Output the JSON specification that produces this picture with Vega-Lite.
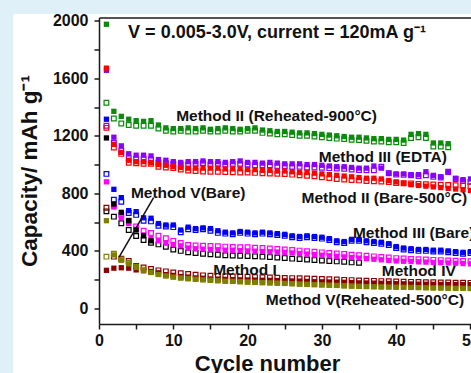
{
"$schema": "https://vega.github.io/schema/vega-lite/v6.json",
"width": 372, "height": 306.5,
"autosize": "none",
"padding": {"left": 99, "top": 17.5, "right": 0, "bottom": 49},
"background": "#e0f0f9",
"config": {"view": {"stroke": null}, "font": "Liberation Sans",
 "axis": {"domainColor": "#1a1a1a", "domainWidth": 1.5, "tickColor": "#1a1a1a", "tickWidth": 1.5, "labelFont": "Liberation Sans", "labelFontWeight": "bold", "labelColor": "#111", "titleFont": "Liberation Sans", "titleFontWeight": "bold", "titleColor": "#111", "grid": false, "zindex": 1}},
"datasets": {
"lead": [{"c": 7.35, "v": 770, "c2": 2.7, "v2": 356}],
"panel": [{"c": -11.55, "v": 2046.6, "c2": 60, "v2": -600}],
"ann": [
{"c": 23.96, "v": 1913, "t": "V = 0.005-3.0V, current = 120mA g⁻¹", "k": "top"},
{"c": 23.9, "v": 1340, "t": "Method II (Reheated-900°C)", "k": "m"},
{"c": 38.2, "v": 1055, "t": "Method III (EDTA)", "k": "m"},
{"c": 38.4, "v": 766, "t": "Method II (Bare-500°C)", "k": "m"},
{"c": 12.0, "v": 800, "t": "Method V(Bare)", "k": "m"},
{"c": 42.35, "v": 523, "t": "Method III (Bare)", "k": "m"},
{"c": 19.65, "v": 267, "t": "Method I", "k": "m"},
{"c": 43.04, "v": 262, "t": "Method IV", "k": "m"},
{"c": 35.8, "v": 59, "t": "Method V(Reheated-500°C)", "k": "m"}
],
"pts": [
{"c":1,"v":1975,"s":"G","f":1},{"c":2,"v":1370,"s":"G","f":1},{"c":3,"v":1335,"s":"G","f":1},{"c":4,"v":1315,"s":"G","f":1},{"c":5,"v":1305,"s":"G","f":1},{"c":6,"v":1300,"s":"G","f":1},{"c":7,"v":1305,"s":"G","f":1},{"c":8,"v":1275,"s":"G","f":1},{"c":9,"v":1255,"s":"G","f":1},{"c":10,"v":1250,"s":"G","f":1},
{"c":11,"v":1250,"s":"G","f":1},{"c":12,"v":1255,"s":"G","f":1},{"c":13,"v":1250,"s":"G","f":1},{"c":14,"v":1255,"s":"G","f":1},{"c":15,"v":1245,"s":"G","f":1},{"c":16,"v":1250,"s":"G","f":1},{"c":17,"v":1255,"s":"G","f":1},{"c":18,"v":1250,"s":"G","f":1},{"c":19,"v":1245,"s":"G","f":1},{"c":20,"v":1250,"s":"G","f":1},
{"c":21,"v":1255,"s":"G","f":1},{"c":22,"v":1240,"s":"G","f":1},{"c":23,"v":1235,"s":"G","f":1},{"c":24,"v":1230,"s":"G","f":1},{"c":25,"v":1230,"s":"G","f":1},{"c":26,"v":1225,"s":"G","f":1},{"c":27,"v":1220,"s":"G","f":1},{"c":28,"v":1220,"s":"G","f":1},{"c":29,"v":1215,"s":"G","f":1},{"c":30,"v":1210,"s":"G","f":1},
{"c":31,"v":1205,"s":"G","f":1},{"c":32,"v":1200,"s":"G","f":1},{"c":33,"v":1195,"s":"G","f":1},{"c":34,"v":1190,"s":"G","f":1},{"c":35,"v":1190,"s":"G","f":1},{"c":36,"v":1185,"s":"G","f":1},{"c":37,"v":1180,"s":"G","f":1},{"c":38,"v":1180,"s":"G","f":1},{"c":39,"v":1175,"s":"G","f":1},{"c":40,"v":1175,"s":"G","f":1},
{"c":41,"v":1170,"s":"G","f":1},{"c":42,"v":1210,"s":"G","f":1},{"c":43,"v":1215,"s":"G","f":1},{"c":44,"v":1210,"s":"G","f":1},{"c":45,"v":1150,"s":"G","f":1},{"c":46,"v":1150,"s":"G","f":1},{"c":47,"v":1145,"s":"G","f":1},
{"c":1,"v":1430,"s":"G","f":0},{"c":2,"v":1320,"s":"G","f":0},{"c":3,"v":1285,"s":"G","f":0},{"c":4,"v":1275,"s":"G","f":0},{"c":5,"v":1270,"s":"G","f":0},{"c":6,"v":1270,"s":"G","f":0},{"c":7,"v":1270,"s":"G","f":0},{"c":8,"v":1250,"s":"G","f":0},{"c":9,"v":1235,"s":"G","f":0},{"c":10,"v":1230,"s":"G","f":0},
{"c":11,"v":1235,"s":"G","f":0},{"c":12,"v":1230,"s":"G","f":0},{"c":13,"v":1230,"s":"G","f":0},{"c":14,"v":1235,"s":"G","f":0},{"c":15,"v":1230,"s":"G","f":0},{"c":16,"v":1230,"s":"G","f":0},{"c":17,"v":1235,"s":"G","f":0},{"c":18,"v":1230,"s":"G","f":0},{"c":19,"v":1230,"s":"G","f":0},{"c":20,"v":1235,"s":"G","f":0},
{"c":21,"v":1235,"s":"G","f":0},{"c":22,"v":1220,"s":"G","f":0},{"c":23,"v":1215,"s":"G","f":0},{"c":24,"v":1210,"s":"G","f":0},{"c":25,"v":1210,"s":"G","f":0},{"c":26,"v":1205,"s":"G","f":0},{"c":27,"v":1200,"s":"G","f":0},{"c":28,"v":1200,"s":"G","f":0},{"c":29,"v":1195,"s":"G","f":0},{"c":30,"v":1190,"s":"G","f":0},
{"c":31,"v":1185,"s":"G","f":0},{"c":32,"v":1180,"s":"G","f":0},{"c":33,"v":1178,"s":"G","f":0},{"c":34,"v":1172,"s":"G","f":0},{"c":35,"v":1170,"s":"G","f":0},{"c":36,"v":1165,"s":"G","f":0},{"c":37,"v":1160,"s":"G","f":0},{"c":38,"v":1160,"s":"G","f":0},{"c":39,"v":1155,"s":"G","f":0},{"c":40,"v":1155,"s":"G","f":0},
{"c":41,"v":1150,"s":"G","f":0},{"c":42,"v":1185,"s":"G","f":0},{"c":43,"v":1190,"s":"G","f":0},{"c":44,"v":1185,"s":"G","f":0},{"c":45,"v":1125,"s":"G","f":0},{"c":46,"v":1125,"s":"G","f":0},{"c":47,"v":1120,"s":"G","f":0},
{"c":1,"v":1655,"s":"P","f":1},{"c":2,"v":1190,"s":"P","f":1},{"c":3,"v":1130,"s":"P","f":1},{"c":4,"v":1075,"s":"P","f":1},{"c":5,"v":1065,"s":"P","f":1},{"c":6,"v":1065,"s":"P","f":1},{"c":7,"v":1060,"s":"P","f":1},{"c":8,"v":1035,"s":"P","f":1},{"c":9,"v":1030,"s":"P","f":1},{"c":10,"v":1020,"s":"P","f":1},
{"c":11,"v":1015,"s":"P","f":1},{"c":12,"v":1020,"s":"P","f":1},{"c":13,"v":1020,"s":"P","f":1},{"c":14,"v":1025,"s":"P","f":1},{"c":15,"v":1020,"s":"P","f":1},{"c":16,"v":1020,"s":"P","f":1},{"c":17,"v":1015,"s":"P","f":1},{"c":18,"v":1020,"s":"P","f":1},{"c":19,"v":1025,"s":"P","f":1},{"c":20,"v":1015,"s":"P","f":1},
{"c":21,"v":1015,"s":"P","f":1},{"c":22,"v":1010,"s":"P","f":1},{"c":23,"v":1015,"s":"P","f":1},{"c":24,"v":1010,"s":"P","f":1},{"c":25,"v":1005,"s":"P","f":1},{"c":26,"v":1005,"s":"P","f":1},{"c":27,"v":1005,"s":"P","f":1},{"c":28,"v":1000,"s":"P","f":1},{"c":29,"v":1000,"s":"P","f":1},{"c":30,"v":995,"s":"P","f":1},
{"c":31,"v":990,"s":"P","f":1},{"c":32,"v":985,"s":"P","f":1},{"c":33,"v":985,"s":"P","f":1},{"c":34,"v":980,"s":"P","f":1},{"c":35,"v":975,"s":"P","f":1},{"c":36,"v":975,"s":"P","f":1},{"c":37,"v":990,"s":"P","f":1},{"c":38,"v":975,"s":"P","f":1},{"c":39,"v":940,"s":"P","f":1},{"c":40,"v":935,"s":"P","f":1},
{"c":41,"v":935,"s":"P","f":1},{"c":42,"v":930,"s":"P","f":1},{"c":43,"v":930,"s":"P","f":1},{"c":44,"v":950,"s":"P","f":1},{"c":45,"v":925,"s":"P","f":1},{"c":46,"v":915,"s":"P","f":1},{"c":47,"v":945,"s":"P","f":1},{"c":48,"v":905,"s":"P","f":1},{"c":49,"v":895,"s":"P","f":1},{"c":50,"v":900,"s":"P","f":1},
{"c":1,"v":1270,"s":"P","f":0},{"c":2,"v":1150,"s":"P","f":0},{"c":3,"v":1097,"s":"P","f":0},{"c":4,"v":1045,"s":"P","f":0},{"c":5,"v":1040,"s":"P","f":0},{"c":6,"v":1040,"s":"P","f":0},{"c":7,"v":1035,"s":"P","f":0},{"c":8,"v":1015,"s":"P","f":0},{"c":9,"v":1010,"s":"P","f":0},{"c":10,"v":1005,"s":"P","f":0},
{"c":11,"v":1000,"s":"P","f":0},{"c":12,"v":1000,"s":"P","f":0},{"c":13,"v":1005,"s":"P","f":0},{"c":14,"v":1010,"s":"P","f":0},{"c":15,"v":1000,"s":"P","f":0},{"c":16,"v":1005,"s":"P","f":0},{"c":17,"v":1000,"s":"P","f":0},{"c":18,"v":1005,"s":"P","f":0},{"c":19,"v":1005,"s":"P","f":0},{"c":20,"v":1000,"s":"P","f":0},
{"c":21,"v":995,"s":"P","f":0},{"c":22,"v":995,"s":"P","f":0},{"c":23,"v":995,"s":"P","f":0},{"c":24,"v":990,"s":"P","f":0},{"c":25,"v":990,"s":"P","f":0},{"c":26,"v":985,"s":"P","f":0},{"c":27,"v":985,"s":"P","f":0},{"c":28,"v":980,"s":"P","f":0},{"c":29,"v":980,"s":"P","f":0},{"c":30,"v":978,"s":"P","f":0},
{"c":31,"v":975,"s":"P","f":0},{"c":32,"v":972,"s":"P","f":0},{"c":33,"v":970,"s":"P","f":0},{"c":34,"v":965,"s":"P","f":0},{"c":35,"v":962,"s":"P","f":0},{"c":36,"v":960,"s":"P","f":0},{"c":37,"v":960,"s":"P","f":0},{"c":38,"v":985,"s":"P","f":0},{"c":39,"v":940,"s":"P","f":0},{"c":40,"v":930,"s":"P","f":0},
{"c":41,"v":928,"s":"P","f":0},{"c":42,"v":925,"s":"P","f":0},{"c":43,"v":920,"s":"P","f":0},{"c":44,"v":925,"s":"P","f":0},{"c":45,"v":915,"s":"P","f":0},{"c":46,"v":910,"s":"P","f":0},{"c":47,"v":950,"s":"P","f":0},{"c":48,"v":900,"s":"P","f":0},{"c":49,"v":885,"s":"P","f":0},{"c":50,"v":880,"s":"P","f":0},
{"c":1,"v":1670,"s":"R","f":1},{"c":2,"v":1140,"s":"R","f":1},{"c":3,"v":1085,"s":"R","f":1},{"c":4,"v":1030,"s":"R","f":1},{"c":5,"v":1020,"s":"R","f":1},{"c":6,"v":1020,"s":"R","f":1},{"c":7,"v":1015,"s":"R","f":1},{"c":8,"v":1000,"s":"R","f":1},{"c":9,"v":995,"s":"R","f":1},{"c":10,"v":985,"s":"R","f":1},
{"c":11,"v":980,"s":"R","f":1},{"c":12,"v":975,"s":"R","f":1},{"c":13,"v":975,"s":"R","f":1},{"c":14,"v":975,"s":"R","f":1},{"c":15,"v":975,"s":"R","f":1},{"c":16,"v":975,"s":"R","f":1},{"c":17,"v":970,"s":"R","f":1},{"c":18,"v":970,"s":"R","f":1},{"c":19,"v":970,"s":"R","f":1},{"c":20,"v":965,"s":"R","f":1},
{"c":21,"v":965,"s":"R","f":1},{"c":22,"v":960,"s":"R","f":1},{"c":23,"v":960,"s":"R","f":1},{"c":24,"v":955,"s":"R","f":1},{"c":25,"v":955,"s":"R","f":1},{"c":26,"v":950,"s":"R","f":1},{"c":27,"v":945,"s":"R","f":1},{"c":28,"v":945,"s":"R","f":1},{"c":29,"v":940,"s":"R","f":1},{"c":30,"v":935,"s":"R","f":1},
{"c":31,"v":930,"s":"R","f":1},{"c":32,"v":925,"s":"R","f":1},{"c":33,"v":920,"s":"R","f":1},{"c":34,"v":915,"s":"R","f":1},{"c":35,"v":910,"s":"R","f":1},{"c":36,"v":905,"s":"R","f":1},{"c":37,"v":905,"s":"R","f":1},{"c":38,"v":900,"s":"R","f":1},{"c":39,"v":890,"s":"R","f":1},{"c":40,"v":880,"s":"R","f":1},
{"c":41,"v":870,"s":"R","f":1},{"c":42,"v":860,"s":"R","f":1},{"c":43,"v":855,"s":"R","f":1},{"c":44,"v":850,"s":"R","f":1},{"c":45,"v":845,"s":"R","f":1},{"c":46,"v":840,"s":"R","f":1},{"c":47,"v":835,"s":"R","f":1},{"c":48,"v":830,"s":"R","f":1},{"c":49,"v":825,"s":"R","f":1},{"c":50,"v":820,"s":"R","f":1},
{"c":1,"v":1255,"s":"R","f":0},{"c":2,"v":1118,"s":"R","f":0},{"c":3,"v":1074,"s":"R","f":0},{"c":4,"v":1013,"s":"R","f":0},{"c":5,"v":1009,"s":"R","f":0},{"c":6,"v":1005,"s":"R","f":0},{"c":7,"v":1005,"s":"R","f":0},{"c":8,"v":985,"s":"R","f":0},{"c":9,"v":980,"s":"R","f":0},{"c":10,"v":975,"s":"R","f":0},
{"c":11,"v":965,"s":"R","f":0},{"c":12,"v":958,"s":"R","f":0},{"c":13,"v":955,"s":"R","f":0},{"c":14,"v":952,"s":"R","f":0},{"c":15,"v":950,"s":"R","f":0},{"c":16,"v":950,"s":"R","f":0},{"c":17,"v":948,"s":"R","f":0},{"c":18,"v":946,"s":"R","f":0},{"c":19,"v":945,"s":"R","f":0},{"c":20,"v":944,"s":"R","f":0},
{"c":21,"v":942,"s":"R","f":0},{"c":22,"v":940,"s":"R","f":0},{"c":23,"v":938,"s":"R","f":0},{"c":24,"v":936,"s":"R","f":0},{"c":25,"v":934,"s":"R","f":0},{"c":26,"v":930,"s":"R","f":0},{"c":27,"v":926,"s":"R","f":0},{"c":28,"v":922,"s":"R","f":0},{"c":29,"v":918,"s":"R","f":0},{"c":30,"v":912,"s":"R","f":0},
{"c":31,"v":906,"s":"R","f":0},{"c":32,"v":900,"s":"R","f":0},{"c":33,"v":896,"s":"R","f":0},{"c":34,"v":892,"s":"R","f":0},{"c":35,"v":890,"s":"R","f":0},{"c":36,"v":886,"s":"R","f":0},{"c":37,"v":884,"s":"R","f":0},{"c":38,"v":882,"s":"R","f":0},{"c":39,"v":878,"s":"R","f":0},{"c":40,"v":872,"s":"R","f":0},
{"c":41,"v":870,"s":"R","f":0},{"c":42,"v":868,"s":"R","f":0},{"c":43,"v":866,"s":"R","f":0},{"c":44,"v":864,"s":"R","f":0},{"c":45,"v":862,"s":"R","f":0},{"c":46,"v":860,"s":"R","f":0},{"c":47,"v":858,"s":"R","f":0},{"c":48,"v":856,"s":"R","f":0},{"c":49,"v":854,"s":"R","f":0},{"c":50,"v":850,"s":"R","f":0},
{"c":1,"v":1315,"s":"B","f":1},{"c":2,"v":828,"s":"B","f":1},{"c":3,"v":770,"s":"B","f":1},{"c":4,"v":680,"s":"B","f":1},{"c":5,"v":673,"s":"B","f":1},{"c":6,"v":630,"s":"B","f":1},{"c":7,"v":627,"s":"B","f":1},{"c":8,"v":590,"s":"B","f":1},{"c":9,"v":580,"s":"B","f":1},{"c":10,"v":580,"s":"B","f":1},
{"c":11,"v":545,"s":"B","f":1},{"c":12,"v":565,"s":"B","f":1},{"c":13,"v":555,"s":"B","f":1},{"c":14,"v":560,"s":"B","f":1},{"c":15,"v":555,"s":"B","f":1},{"c":16,"v":540,"s":"B","f":1},{"c":17,"v":530,"s":"B","f":1},{"c":18,"v":525,"s":"B","f":1},{"c":19,"v":535,"s":"B","f":1},{"c":20,"v":530,"s":"B","f":1},
{"c":21,"v":525,"s":"B","f":1},{"c":22,"v":530,"s":"B","f":1},{"c":23,"v":525,"s":"B","f":1},{"c":24,"v":520,"s":"B","f":1},{"c":25,"v":515,"s":"B","f":1},{"c":26,"v":505,"s":"B","f":1},{"c":27,"v":500,"s":"B","f":1},{"c":28,"v":505,"s":"B","f":1},{"c":29,"v":500,"s":"B","f":1},{"c":30,"v":495,"s":"B","f":1},
{"c":31,"v":485,"s":"B","f":1},{"c":32,"v":470,"s":"B","f":1},{"c":33,"v":465,"s":"B","f":1},{"c":34,"v":480,"s":"B","f":1},{"c":35,"v":480,"s":"B","f":1},{"c":36,"v":470,"s":"B","f":1},{"c":37,"v":465,"s":"B","f":1},{"c":38,"v":460,"s":"B","f":1},{"c":39,"v":450,"s":"B","f":1},{"c":40,"v":430,"s":"B","f":1},
{"c":41,"v":420,"s":"B","f":1},{"c":42,"v":415,"s":"B","f":1},{"c":43,"v":410,"s":"B","f":1},{"c":44,"v":410,"s":"B","f":1},{"c":45,"v":405,"s":"B","f":1},{"c":46,"v":405,"s":"B","f":1},{"c":47,"v":400,"s":"B","f":1},{"c":48,"v":395,"s":"B","f":1},{"c":49,"v":390,"s":"B","f":1},{"c":50,"v":395,"s":"B","f":1},
{"c":1,"v":935,"s":"B","f":0},{"c":2,"v":755,"s":"B","f":0},{"c":3,"v":742,"s":"B","f":0},{"c":4,"v":663,"s":"B","f":0},{"c":5,"v":650,"s":"B","f":0},{"c":6,"v":610,"s":"B","f":0},{"c":7,"v":605,"s":"B","f":0},{"c":8,"v":575,"s":"B","f":0},{"c":9,"v":570,"s":"B","f":0},{"c":10,"v":565,"s":"B","f":0},
{"c":11,"v":530,"s":"B","f":0},{"c":12,"v":550,"s":"B","f":0},{"c":13,"v":545,"s":"B","f":0},{"c":14,"v":550,"s":"B","f":0},{"c":15,"v":540,"s":"B","f":0},{"c":16,"v":525,"s":"B","f":0},{"c":17,"v":520,"s":"B","f":0},{"c":18,"v":515,"s":"B","f":0},{"c":19,"v":525,"s":"B","f":0},{"c":20,"v":520,"s":"B","f":0},
{"c":21,"v":515,"s":"B","f":0},{"c":22,"v":520,"s":"B","f":0},{"c":23,"v":515,"s":"B","f":0},{"c":24,"v":510,"s":"B","f":0},{"c":25,"v":505,"s":"B","f":0},{"c":26,"v":495,"s":"B","f":0},{"c":27,"v":490,"s":"B","f":0},{"c":28,"v":495,"s":"B","f":0},{"c":29,"v":490,"s":"B","f":0},{"c":30,"v":485,"s":"B","f":0},
{"c":31,"v":475,"s":"B","f":0},{"c":32,"v":460,"s":"B","f":0},{"c":33,"v":455,"s":"B","f":0},{"c":34,"v":470,"s":"B","f":0},{"c":35,"v":470,"s":"B","f":0},{"c":36,"v":460,"s":"B","f":0},{"c":37,"v":455,"s":"B","f":0},{"c":38,"v":450,"s":"B","f":0},{"c":39,"v":440,"s":"B","f":0},{"c":40,"v":420,"s":"B","f":0},
{"c":41,"v":410,"s":"B","f":0},{"c":42,"v":405,"s":"B","f":0},{"c":43,"v":400,"s":"B","f":0},{"c":44,"v":400,"s":"B","f":0},{"c":45,"v":395,"s":"B","f":0},{"c":46,"v":395,"s":"B","f":0},{"c":47,"v":390,"s":"B","f":0},{"c":48,"v":385,"s":"B","f":0},{"c":49,"v":380,"s":"B","f":0},{"c":50,"v":385,"s":"B","f":0},
{"c":1,"v":880,"s":"M","f":1},{"c":2,"v":705,"s":"M","f":1},{"c":3,"v":630,"s":"M","f":1},{"c":4,"v":590,"s":"M","f":1},{"c":5,"v":550,"s":"M","f":1},{"c":6,"v":510,"s":"M","f":1},{"c":7,"v":490,"s":"M","f":1},{"c":8,"v":470,"s":"M","f":1},{"c":9,"v":455,"s":"M","f":1},{"c":10,"v":445,"s":"M","f":1},
{"c":11,"v":435,"s":"M","f":1},{"c":12,"v":420,"s":"M","f":1},{"c":13,"v":415,"s":"M","f":1},{"c":14,"v":412,"s":"M","f":1},{"c":15,"v":410,"s":"M","f":1},{"c":16,"v":408,"s":"M","f":1},{"c":17,"v":405,"s":"M","f":1},{"c":18,"v":405,"s":"M","f":1},{"c":19,"v":402,"s":"M","f":1},{"c":20,"v":400,"s":"M","f":1},
{"c":21,"v":398,"s":"M","f":1},{"c":22,"v":396,"s":"M","f":1},{"c":23,"v":394,"s":"M","f":1},{"c":24,"v":392,"s":"M","f":1},{"c":25,"v":390,"s":"M","f":1},{"c":26,"v":386,"s":"M","f":1},{"c":27,"v":382,"s":"M","f":1},{"c":28,"v":378,"s":"M","f":1},{"c":29,"v":374,"s":"M","f":1},{"c":30,"v":370,"s":"M","f":1},
{"c":31,"v":366,"s":"M","f":1},{"c":32,"v":362,"s":"M","f":1},{"c":33,"v":358,"s":"M","f":1},{"c":34,"v":354,"s":"M","f":1},{"c":35,"v":350,"s":"M","f":1},{"c":36,"v":346,"s":"M","f":1},{"c":37,"v":342,"s":"M","f":1},{"c":38,"v":338,"s":"M","f":1},{"c":39,"v":334,"s":"M","f":1},{"c":40,"v":330,"s":"M","f":1},
{"c":41,"v":328,"s":"M","f":1},{"c":42,"v":326,"s":"M","f":1},{"c":43,"v":324,"s":"M","f":1},{"c":44,"v":322,"s":"M","f":1},{"c":45,"v":320,"s":"M","f":1},{"c":46,"v":318,"s":"M","f":1},{"c":47,"v":316,"s":"M","f":1},{"c":48,"v":314,"s":"M","f":1},{"c":49,"v":312,"s":"M","f":1},{"c":50,"v":310,"s":"M","f":1},
{"c":2,"v":715,"s":"M","f":0},{"c":3,"v":650,"s":"M","f":0},{"c":4,"v":610,"s":"M","f":0},{"c":5,"v":570,"s":"M","f":0},{"c":6,"v":540,"s":"M","f":0},{"c":7,"v":525,"s":"M","f":0},{"c":8,"v":505,"s":"M","f":0},{"c":9,"v":488,"s":"M","f":0},{"c":10,"v":470,"s":"M","f":0},
{"c":11,"v":455,"s":"M","f":0},{"c":12,"v":441,"s":"M","f":0},{"c":13,"v":438,"s":"M","f":0},{"c":14,"v":436,"s":"M","f":0},{"c":15,"v":434,"s":"M","f":0},{"c":16,"v":432,"s":"M","f":0},{"c":17,"v":430,"s":"M","f":0},{"c":18,"v":428,"s":"M","f":0},{"c":19,"v":426,"s":"M","f":0},{"c":20,"v":425,"s":"M","f":0},
{"c":21,"v":422,"s":"M","f":0},{"c":22,"v":420,"s":"M","f":0},{"c":23,"v":417,"s":"M","f":0},{"c":24,"v":414,"s":"M","f":0},{"c":25,"v":410,"s":"M","f":0},{"c":26,"v":406,"s":"M","f":0},{"c":27,"v":402,"s":"M","f":0},{"c":28,"v":398,"s":"M","f":0},{"c":29,"v":394,"s":"M","f":0},{"c":30,"v":390,"s":"M","f":0},
{"c":31,"v":386,"s":"M","f":0},{"c":32,"v":382,"s":"M","f":0},{"c":33,"v":378,"s":"M","f":0},{"c":34,"v":374,"s":"M","f":0},{"c":35,"v":370,"s":"M","f":0},{"c":36,"v":366,"s":"M","f":0},{"c":37,"v":362,"s":"M","f":0},{"c":38,"v":358,"s":"M","f":0},{"c":39,"v":354,"s":"M","f":0},{"c":40,"v":350,"s":"M","f":0},
{"c":41,"v":347,"s":"M","f":0},{"c":42,"v":344,"s":"M","f":0},{"c":43,"v":342,"s":"M","f":0},{"c":44,"v":340,"s":"M","f":0},{"c":45,"v":338,"s":"M","f":0},{"c":46,"v":336,"s":"M","f":0},{"c":47,"v":334,"s":"M","f":0},{"c":48,"v":332,"s":"M","f":0},{"c":49,"v":330,"s":"M","f":0},{"c":50,"v":328,"s":"M","f":0},
{"c":1,"v":1185,"s":"K","f":1},{"c":2,"v":726,"s":"K","f":1},{"c":3,"v":668,"s":"K","f":1},{"c":4,"v":610,"s":"K","f":1},{"c":5,"v":545,"s":"K","f":1},{"c":6,"v":505,"s":"K","f":1},{"c":7,"v":470,"s":"K","f":1},
{"c":1,"v":675,"s":"K","f":0},{"c":2,"v":638,"s":"K","f":0},{"c":3,"v":592,"s":"K","f":0},{"c":4,"v":545,"s":"K","f":0},{"c":5,"v":504,"s":"K","f":0},{"c":6,"v":476,"s":"K","f":0},{"c":7,"v":457,"s":"K","f":0},{"c":8,"v":445,"s":"K","f":0},{"c":9,"v":428,"s":"K","f":0},{"c":10,"v":410,"s":"K","f":0},
{"c":11,"v":400,"s":"K","f":0},{"c":12,"v":390,"s":"K","f":0},{"c":13,"v":385,"s":"K","f":0},{"c":14,"v":380,"s":"K","f":0},{"c":15,"v":376,"s":"K","f":0},{"c":16,"v":373,"s":"K","f":0},{"c":17,"v":370,"s":"K","f":0},{"c":18,"v":368,"s":"K","f":0},{"c":19,"v":366,"s":"K","f":0},{"c":20,"v":364,"s":"K","f":0},
{"c":21,"v":362,"s":"K","f":0},{"c":22,"v":360,"s":"K","f":0},{"c":23,"v":357,"s":"K","f":0},{"c":24,"v":354,"s":"K","f":0},{"c":25,"v":350,"s":"K","f":0},{"c":26,"v":346,"s":"K","f":0},{"c":27,"v":343,"s":"K","f":0},{"c":28,"v":340,"s":"K","f":0},{"c":29,"v":336,"s":"K","f":0},{"c":30,"v":333,"s":"K","f":0},
{"c":31,"v":330,"s":"K","f":0},{"c":32,"v":327,"s":"K","f":0},{"c":33,"v":324,"s":"K","f":0},{"c":34,"v":320,"s":"K","f":0},{"c":35,"v":317,"s":"K","f":0},
{"c":1,"v":265,"s":"N","f":1},{"c":2,"v":280,"s":"N","f":1},{"c":3,"v":283,"s":"N","f":1},{"c":4,"v":280,"s":"N","f":1},{"c":5,"v":268,"s":"N","f":1},{"c":6,"v":262,"s":"N","f":1},{"c":7,"v":256,"s":"N","f":1},{"c":8,"v":248,"s":"N","f":1},{"c":9,"v":235,"s":"N","f":1},{"c":10,"v":230,"s":"N","f":1},
{"c":11,"v":222,"s":"N","f":1},{"c":12,"v":218,"s":"N","f":1},{"c":13,"v":212,"s":"N","f":1},{"c":14,"v":210,"s":"N","f":1},{"c":15,"v":205,"s":"N","f":1},{"c":16,"v":204,"s":"N","f":1},{"c":17,"v":202,"s":"N","f":1},{"c":18,"v":200,"s":"N","f":1},{"c":19,"v":199,"s":"N","f":1},{"c":20,"v":198,"s":"N","f":1},
{"c":21,"v":197,"s":"N","f":1},{"c":22,"v":196,"s":"N","f":1},{"c":23,"v":195,"s":"N","f":1},{"c":24,"v":194,"s":"N","f":1},{"c":25,"v":192,"s":"N","f":1},{"c":26,"v":191,"s":"N","f":1},{"c":27,"v":190,"s":"N","f":1},{"c":28,"v":188,"s":"N","f":1},{"c":29,"v":186,"s":"N","f":1},{"c":30,"v":185,"s":"N","f":1},
{"c":31,"v":184,"s":"N","f":1},{"c":32,"v":183,"s":"N","f":1},{"c":33,"v":182,"s":"N","f":1},{"c":34,"v":180,"s":"N","f":1},{"c":35,"v":178,"s":"N","f":1},{"c":36,"v":177,"s":"N","f":1},{"c":37,"v":176,"s":"N","f":1},{"c":38,"v":175,"s":"N","f":1},{"c":39,"v":174,"s":"N","f":1},{"c":40,"v":172,"s":"N","f":1},
{"c":41,"v":171,"s":"N","f":1},{"c":42,"v":170,"s":"N","f":1},{"c":43,"v":169,"s":"N","f":1},{"c":44,"v":168,"s":"N","f":1},{"c":45,"v":168,"s":"N","f":1},{"c":46,"v":167,"s":"N","f":1},{"c":47,"v":166,"s":"N","f":1},{"c":48,"v":166,"s":"N","f":1},{"c":49,"v":165,"s":"N","f":1},{"c":50,"v":165,"s":"N","f":1},
{"c":1,"v":700,"s":"N","f":0},{"c":2,"v":360,"s":"N","f":0},{"c":3,"v":345,"s":"N","f":0},{"c":4,"v":330,"s":"N","f":0},{"c":5,"v":295,"s":"N","f":0},{"c":6,"v":285,"s":"N","f":0},{"c":7,"v":275,"s":"N","f":0},{"c":8,"v":265,"s":"N","f":0},{"c":9,"v":258,"s":"N","f":0},{"c":10,"v":250,"s":"N","f":0},
{"c":11,"v":245,"s":"N","f":0},{"c":12,"v":240,"s":"N","f":0},{"c":13,"v":235,"s":"N","f":0},{"c":14,"v":230,"s":"N","f":0},{"c":15,"v":228,"s":"N","f":0},{"c":16,"v":226,"s":"N","f":0},{"c":17,"v":224,"s":"N","f":0},{"c":18,"v":222,"s":"N","f":0},{"c":19,"v":221,"s":"N","f":0},{"c":20,"v":220,"s":"N","f":0},
{"c":21,"v":218,"s":"N","f":0},{"c":22,"v":217,"s":"N","f":0},{"c":23,"v":216,"s":"N","f":0},{"c":24,"v":214,"s":"N","f":0},{"c":25,"v":212,"s":"N","f":0},{"c":26,"v":211,"s":"N","f":0},{"c":27,"v":210,"s":"N","f":0},{"c":28,"v":208,"s":"N","f":0},{"c":29,"v":206,"s":"N","f":0},{"c":30,"v":205,"s":"N","f":0},
{"c":31,"v":203,"s":"N","f":0},{"c":32,"v":201,"s":"N","f":0},{"c":33,"v":199,"s":"N","f":0},{"c":34,"v":197,"s":"N","f":0},{"c":35,"v":195,"s":"N","f":0},{"c":36,"v":193,"s":"N","f":0},{"c":37,"v":192,"s":"N","f":0},{"c":38,"v":190,"s":"N","f":0},{"c":39,"v":189,"s":"N","f":0},{"c":40,"v":188,"s":"N","f":0},
{"c":41,"v":186,"s":"N","f":0},{"c":42,"v":185,"s":"N","f":0},{"c":43,"v":184,"s":"N","f":0},{"c":44,"v":183,"s":"N","f":0},{"c":45,"v":182,"s":"N","f":0},{"c":46,"v":181,"s":"N","f":0},{"c":47,"v":180,"s":"N","f":0},{"c":48,"v":179,"s":"N","f":0},{"c":49,"v":179,"s":"N","f":0},{"c":50,"v":178,"s":"N","f":0},
{"c":1,"v":610,"s":"O","f":1},{"c":2,"v":372,"s":"O","f":1},{"c":3,"v":335,"s":"O","f":1},{"c":4,"v":310,"s":"O","f":1},{"c":5,"v":285,"s":"O","f":1},{"c":6,"v":265,"s":"O","f":1},{"c":7,"v":250,"s":"O","f":1},{"c":8,"v":236,"s":"O","f":1},{"c":9,"v":226,"s":"O","f":1},{"c":10,"v":218,"s":"O","f":1},
{"c":11,"v":212,"s":"O","f":1},{"c":12,"v":207,"s":"O","f":1},{"c":13,"v":203,"s":"O","f":1},{"c":14,"v":199,"s":"O","f":1},{"c":15,"v":196,"s":"O","f":1},{"c":16,"v":193,"s":"O","f":1},{"c":17,"v":190,"s":"O","f":1},{"c":18,"v":188,"s":"O","f":1},{"c":19,"v":186,"s":"O","f":1},{"c":20,"v":184,"s":"O","f":1},
{"c":21,"v":182,"s":"O","f":1},{"c":22,"v":180,"s":"O","f":1},{"c":23,"v":178,"s":"O","f":1},{"c":24,"v":176,"s":"O","f":1},{"c":25,"v":174,"s":"O","f":1},{"c":26,"v":172,"s":"O","f":1},{"c":27,"v":170,"s":"O","f":1},{"c":28,"v":168,"s":"O","f":1},{"c":29,"v":166,"s":"O","f":1},{"c":30,"v":164,"s":"O","f":1},
{"c":31,"v":162,"s":"O","f":1},{"c":32,"v":160,"s":"O","f":1},{"c":33,"v":158,"s":"O","f":1},{"c":34,"v":156,"s":"O","f":1},{"c":35,"v":154,"s":"O","f":1},{"c":36,"v":152,"s":"O","f":1},{"c":37,"v":151,"s":"O","f":1},{"c":38,"v":150,"s":"O","f":1},{"c":39,"v":149,"s":"O","f":1},{"c":40,"v":148,"s":"O","f":1},
{"c":41,"v":147,"s":"O","f":1},{"c":42,"v":146,"s":"O","f":1},{"c":43,"v":145,"s":"O","f":1},{"c":44,"v":144,"s":"O","f":1},{"c":45,"v":143,"s":"O","f":1},{"c":46,"v":142,"s":"O","f":1},{"c":47,"v":141,"s":"O","f":1},{"c":48,"v":140,"s":"O","f":1},{"c":49,"v":140,"s":"O","f":1},{"c":50,"v":139,"s":"O","f":1},
{"c":1,"v":360,"s":"O","f":0},{"c":2,"v":380,"s":"O","f":0},{"c":3,"v":340,"s":"O","f":0},{"c":4,"v":318,"s":"O","f":0},{"c":5,"v":290,"s":"O","f":0},{"c":6,"v":270,"s":"O","f":0},{"c":7,"v":255,"s":"O","f":0},{"c":8,"v":240,"s":"O","f":0},{"c":9,"v":230,"s":"O","f":0},{"c":10,"v":222,"s":"O","f":0},
{"c":11,"v":215,"s":"O","f":0},{"c":12,"v":210,"s":"O","f":0},{"c":13,"v":206,"s":"O","f":0},{"c":14,"v":202,"s":"O","f":0},{"c":15,"v":199,"s":"O","f":0},{"c":16,"v":196,"s":"O","f":0},{"c":17,"v":193,"s":"O","f":0},{"c":18,"v":190,"s":"O","f":0},{"c":19,"v":188,"s":"O","f":0},{"c":20,"v":186,"s":"O","f":0},
{"c":21,"v":184,"s":"O","f":0},{"c":22,"v":182,"s":"O","f":0},{"c":23,"v":180,"s":"O","f":0},{"c":24,"v":178,"s":"O","f":0},{"c":25,"v":176,"s":"O","f":0},{"c":26,"v":174,"s":"O","f":0},{"c":27,"v":172,"s":"O","f":0},{"c":28,"v":170,"s":"O","f":0},{"c":29,"v":168,"s":"O","f":0},{"c":30,"v":166,"s":"O","f":0},
{"c":31,"v":164,"s":"O","f":0},{"c":32,"v":162,"s":"O","f":0},{"c":33,"v":160,"s":"O","f":0},{"c":34,"v":158,"s":"O","f":0},{"c":35,"v":156,"s":"O","f":0},{"c":36,"v":155,"s":"O","f":0},{"c":37,"v":154,"s":"O","f":0},{"c":38,"v":153,"s":"O","f":0},{"c":39,"v":152,"s":"O","f":0},{"c":40,"v":151,"s":"O","f":0},
{"c":41,"v":150,"s":"O","f":0},{"c":42,"v":149,"s":"O","f":0},{"c":43,"v":148,"s":"O","f":0},{"c":44,"v":147,"s":"O","f":0},{"c":45,"v":146,"s":"O","f":0},{"c":46,"v":145,"s":"O","f":0},{"c":47,"v":144,"s":"O","f":0},{"c":48,"v":143,"s":"O","f":0},{"c":49,"v":143,"s":"O","f":0},{"c":50,"v":142,"s":"O","f":0}
]
},
"layer": [
 {
  "data": {"name": "panel"},
  "mark": {"type": "rect", "fill": "#ffffff", "clip": false},
  "encoding": {
   "x": {"field": "c", "type": "quantitative", "scale": {"domain": [0, 50.07], "nice": false, "zero": false}, "axis": null},
   "x2": {"field": "c2"},
   "y": {"field": "v", "type": "quantitative", "scale": {"domain": [-108, 2022], "nice": false, "zero": false},
    "axis": {"orient": "left", "zindex": 2, "values": [0,200,400,600,800,1000,1200,1400,1600,1800,2000], "labelExpr": "datum.value % 400 == 0 ? datum.label : ''", "format": "d", "tickSize": 5, "labelPadding": 6, "labelFontSize": 16, "labelOverlap": false,
     "title": "Capacity/ mAh g⁻¹", "titleFontSize": 22.5, "titleX": -70, "titleY": 153, "titleAngle": 270, "titleAlign": "center", "titleBaseline": "middle"}},
   "y2": {"field": "v2"}
  }
 },
 {
  "data": {"name": "pts"},
  "transform": [{"filter": "datum.f == 0"}],
  "mark": {"type": "point", "shape": "square", "filled": false, "size": 22, "strokeWidth": 1.2, "opacity": 1, "clip": false},
  "encoding": {
   "x": {"field": "c", "type": "quantitative", "scale": {"domain": [0, 50.07], "nice": false, "zero": false},
    "axis": {"orient": "bottom", "zindex": 2, "values": [0,5,10,15,20,25,30,35,40,45,50], "labelExpr": "datum.value % 10 == 0 ? datum.label : ''", "format": "d", "tickSize": 5, "labelPadding": 3, "labelFontSize": 16, "labelFlush": false, "labelOverlap": false,
     "title": "Cycle number", "titleFontSize": 22, "titleX": 168, "titleY": 39, "titleAlign": "center", "titleBaseline": "middle"}},
   "y": {"field": "v", "type": "quantitative", "scale": {"domain": [-108, 2022], "nice": false, "zero": false}, "axis": null},
   "color": {"field": "s", "type": "nominal", "legend": null,
    "scale": {"domain": ["G", "P", "R", "B", "M", "K", "N", "O"], "range": ["#0b8a0b", "#8a00ff", "#ff0000", "#0000ff", "#ff00ff", "#000000", "#8b0000", "#808000"]}}
  }
 },
 {
  "data": {"name": "pts"},
  "transform": [{"filter": "datum.f == 1"}],
  "mark": {"type": "point", "shape": "square", "filled": true, "size": 28, "opacity": 1, "clip": false},
  "encoding": {
   "x": {"field": "c", "type": "quantitative", "scale": {"domain": [0, 50.07], "nice": false, "zero": false}, "axis": null},
   "y": {"field": "v", "type": "quantitative", "scale": {"domain": [-108, 2022], "nice": false, "zero": false}, "axis": null},
   "color": {"field": "s", "type": "nominal", "legend": null,
    "scale": {"domain": ["G", "P", "R", "B", "M", "K", "N", "O"], "range": ["#0b8a0b", "#8a00ff", "#ff0000", "#0000ff", "#ff00ff", "#000000", "#8b0000", "#808000"]}}
  }
 },
 {
  "data": {"name": "lead"},
  "mark": {"type": "rule", "color": "#111", "strokeWidth": 1.5, "clip": false},
  "encoding": {
   "x": {"field": "c", "type": "quantitative", "scale": {"domain": [0, 50.07], "nice": false, "zero": false},
    "axis": {"orient": "top", "zindex": 2, "labels": false, "ticks": false, "title": null, "domain": true}},
   "x2": {"field": "c2"},
   "y": {"field": "v", "type": "quantitative", "scale": {"domain": [-108, 2022], "nice": false, "zero": false}, "axis": null},
   "y2": {"field": "v2"}
  }
 },
 {
  "data": {"name": "ann"},
  "transform": [{"filter": "datum.k == 'm'"}],
  "mark": {"type": "text", "font": "Liberation Sans", "fontWeight": "bold", "fontSize": 15.5, "align": "center", "baseline": "middle", "color": "#111", "clip": false},
  "encoding": {
   "x": {"field": "c", "type": "quantitative", "scale": {"domain": [0, 50.07], "nice": false, "zero": false}, "axis": null},
   "y": {"field": "v", "type": "quantitative", "scale": {"domain": [-108, 2022], "nice": false, "zero": false}, "axis": null},
   "text": {"field": "t"}}
 },
 {
  "data": {"name": "ann"},
  "transform": [{"filter": "datum.k == 'top'"}],
  "mark": {"type": "text", "font": "Liberation Sans", "fontWeight": "bold", "fontSize": 18, "align": "center", "baseline": "middle", "color": "#111", "clip": false},
  "encoding": {
   "x": {"field": "c", "type": "quantitative", "scale": {"domain": [0, 50.07], "nice": false, "zero": false}, "axis": null},
   "y": {"field": "v", "type": "quantitative", "scale": {"domain": [-108, 2022], "nice": false, "zero": false}, "axis": null},
   "text": {"field": "t"}}
 }
],
"resolve": {"axis": {"x": "independent", "y": "independent"}}
}
